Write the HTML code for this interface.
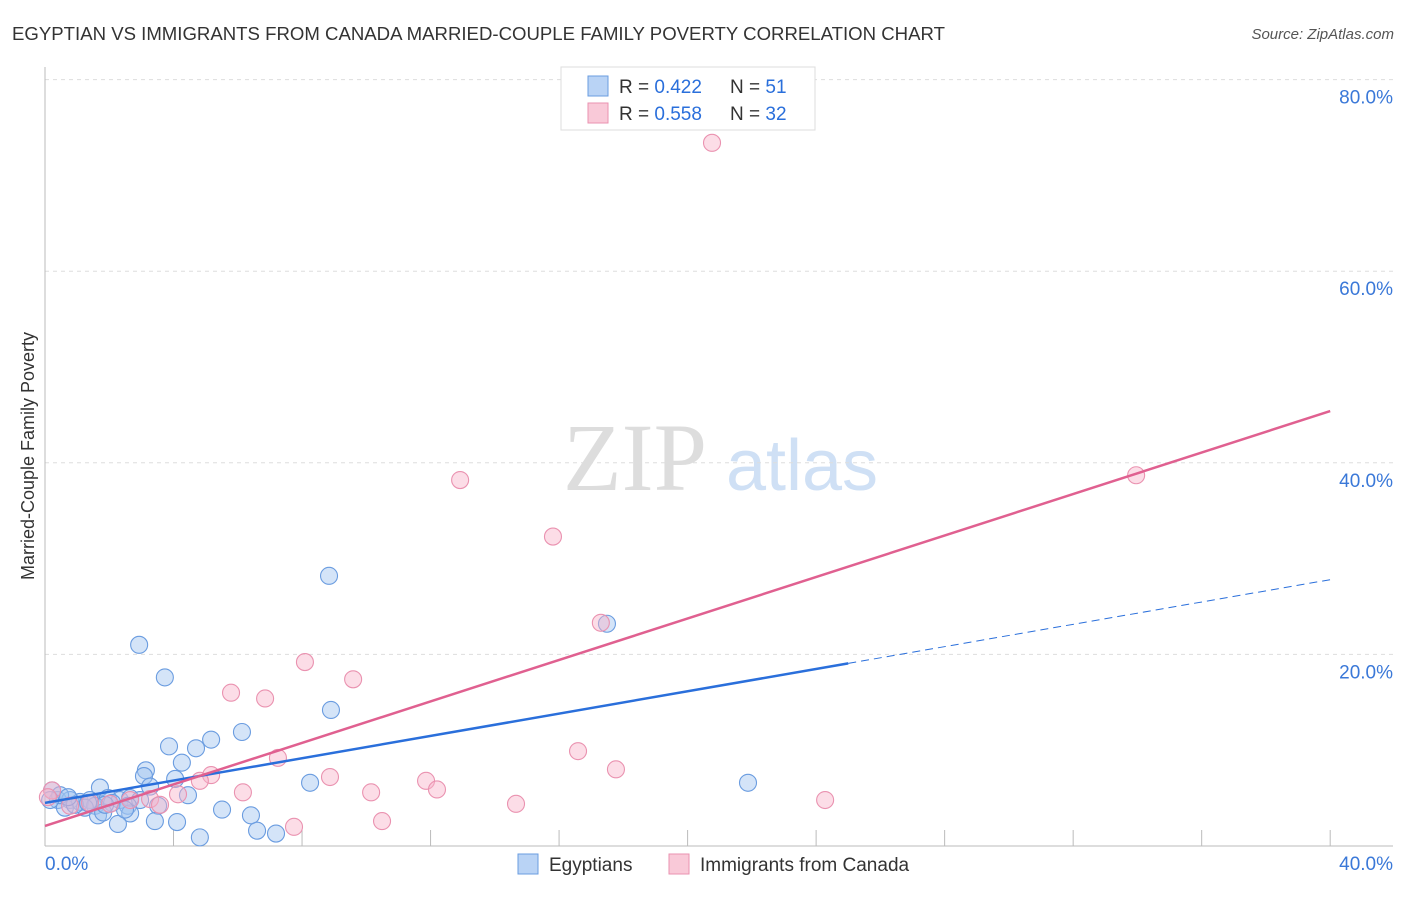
<!DOCTYPE html>
<html><head><meta charset="utf-8"><style>
body{margin:0;background:#fff;font-family:"Liberation Sans",sans-serif}
</style></head><body>
<svg id="c" width="1406" height="892" xmlns="http://www.w3.org/2000/svg">
<text x="12" y="40" font-size="18.6" fill="#333">EGYPTIAN VS IMMIGRANTS FROM CANADA MARRIED-COUPLE FAMILY POVERTY CORRELATION CHART</text>
<text x="1394" y="39" font-size="15" fill="#555" font-style="italic" text-anchor="end">Source: ZipAtlas.com</text>
<text x="34" y="456" font-size="18" fill="#333" text-anchor="middle" transform="rotate(-90 34 456)">Married-Couple Family Poverty</text>
<g><text x="635" y="490" font-size="96" fill="#ddd" font-family="Liberation Serif,serif" text-anchor="middle">ZIP</text><text x="802" y="490" font-size="72" fill="#cfe0f5" text-anchor="middle">atlas</text></g>
<g id="grid"></g><g id="marks"></g>
<g>
<rect x="561" y="67" width="254" height="63" fill="#fff" stroke="#ddd"/>
<rect x="588" y="76" width="20" height="20" fill="#b9d3f5" stroke="#6a9ce0"/>
<rect x="588" y="103" width="20" height="20" fill="#f9c9d8" stroke="#ea92b0"/>
<text x="619" y="93" font-size="19" fill="#333">R = <tspan fill="#2a6fdb">0.422</tspan></text>
<text x="730" y="93" font-size="19" fill="#333">N =  <tspan fill="#2a6fdb">51</tspan></text>
<text x="619" y="120" font-size="19" fill="#333">R = <tspan fill="#2a6fdb">0.558</tspan></text>
<text x="730" y="120" font-size="19" fill="#333">N = <tspan fill="#2a6fdb">32</tspan></text>
</g>
<g>
<rect x="518" y="854" width="20" height="20" fill="#b9d3f5" stroke="#6a9ce0"/>
<text x="549" y="871" font-size="19" fill="#333">Egyptians</text>
<rect x="669" y="854" width="20" height="20" fill="#f9c9d8" stroke="#ea92b0"/>
<text x="700" y="871" font-size="19" fill="#333">Immigrants from Canada</text>
</g>
</svg>
<script>
const yTicks=[20,40,60,80];
const xTickLabels=["0.0%","40.0%"];
const blueX=[8.84,17.49,2.93,3.73,8.90,6.13,5.17,3.86,4.70,4.26,3.14,3.08,4.05,8.25,21.88,1.71,3.27,4.45,0.22,0.40,0.78,1.09,1.40,1.96,2.33,2.65,2.96,1.56,1.24,0.62,0.93,2.09,2.58,3.52,2.65,1.65,1.81,5.51,6.41,3.42,2.27,4.11,6.60,7.19,4.82,0.47,0.16,2.49,1.34,1.87,0.72];
const blueY=[28.2,23.2,21.0,17.6,14.2,11.9,11.1,10.4,10.2,8.7,7.9,7.3,7.0,6.6,6.6,6.1,6.2,5.3,5.8,4.8,4.8,4.6,4.8,5.0,4.8,5.0,4.8,4.2,4.0,4.0,4.3,4.5,4.2,4.2,3.4,3.2,3.5,3.8,3.2,2.6,2.3,2.5,1.6,1.3,0.9,5.3,4.8,3.8,4.5,4.3,5.1];
const pinkX=[20.76,12.92,15.81,33.96,17.30,8.09,9.59,5.79,6.85,16.59,7.25,17.77,5.17,8.87,4.82,11.86,12.20,6.16,10.15,4.14,14.66,24.28,3.27,2.65,0.22,0.09,2.02,0.78,10.49,7.75,3.58,1.40];
const pinkY=[73.4,38.2,32.3,38.7,23.3,19.2,17.4,16.0,15.4,9.9,9.2,8.0,7.4,7.2,6.8,6.8,5.9,5.6,5.6,5.4,4.4,4.8,4.9,4.8,5.8,5.1,4.4,4.2,2.6,2.0,4.3,4.5];
const blueLine=[4.5,27.8];
const pinkLine=[2.1,45.4];
const NS="http://www.w3.org/2000/svg";
const X=v=>45+v*32.13, Y=v=>846-v*9.58;
function mk(t,a,p){const e=document.createElementNS(NS,t);for(const k in a)e.setAttribute(k,a[k]);p.appendChild(e);return e;}
const g=document.getElementById('grid'), m=document.getElementById('marks');
yTicks.forEach(t=>{
 const l=mk('line',{x1:45,x2:1393,y1:Y(t),y2:Y(t),stroke:'#ddd','stroke-dasharray':'4,4'},g);
 
 
 const tx=mk('text',{x:1393,y:Y(t)+24,'font-size':19,fill:'#3a78d8','text-anchor':'end'},g);tx.textContent=t.toFixed(1)+'%';
 
 
});
mk('line',{x1:45,x2:45,y1:67,y2:846,stroke:'#bbb'},g);
mk('line',{x1:45,x2:1393,y1:846,y2:846,stroke:'#bbb'},g);
for(let i=1;i<=10;i++){mk('line',{x1:X(i*4),x2:X(i*4),y1:830,y2:846,stroke:'#bbb'},g);}
[[0,'start',45],[40,'end',1393]].forEach((d,i)=>{const t=mk('text',{x:d[2],y:870,'font-size':19,fill:'#3a78d8','text-anchor':d[1]},g);t.textContent=xTickLabels[i];
 
 });
function dots(xs,ys,f,s,n){xs.forEach((x,i)=>{const c=mk('circle',{cx:X(x),cy:Y(ys[i]),r:8.5,fill:f,stroke:s,'stroke-width':1.1},m);
 
 });}
dots(blueX,blueY,'rgba(160,196,240,0.45)','#6a9ce0','egyptians-point');
dots(pinkX,pinkY,'rgba(248,180,202,0.45)','#ea92b0','canada-point');
const bAt=v=>blueLine[0]+(blueLine[1]-blueLine[0])*v/40;
const b1=mk('line',{x1:X(0),y1:Y(bAt(0)),x2:X(25),y2:Y(bAt(25)),stroke:'#2a6fdb','stroke-width':2.5},m);


const b2=mk('line',{x1:X(25),y1:Y(bAt(25)),x2:X(40),y2:Y(bAt(40)),stroke:'#2a6fdb','stroke-width':1,'stroke-dasharray':'8,5'},m);


const p1=mk('line',{x1:X(0),y1:Y(pinkLine[0]),x2:X(40),y2:Y(pinkLine[1]),stroke:'#e06090','stroke-width':2.5},m);


</script>
</body></html>
